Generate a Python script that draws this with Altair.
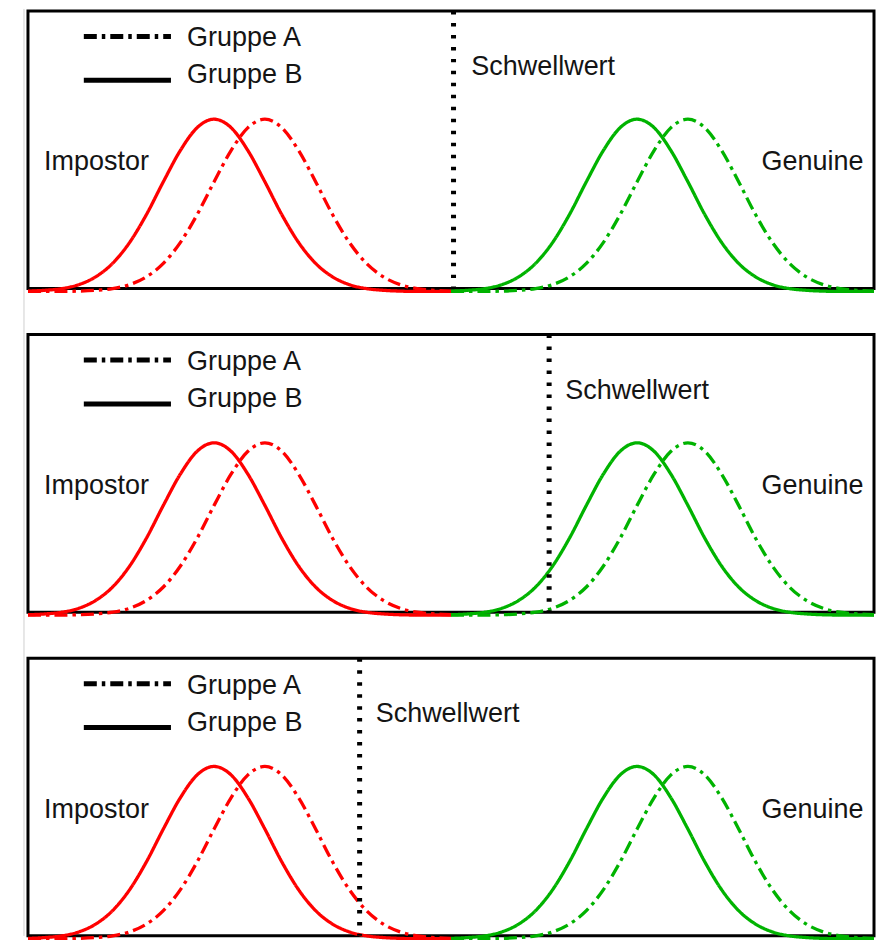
import altair as alt
import pandas as pd

# ---- data (x in 0..100 across each panel, y = curve height) ----
x_impostor = [0, 2, 4, 6, 8, 10, 12, 14, 16, 18, 20, 22, 24, 26, 28, 30, 32, 34, 36, 38, 40, 42, 44, 46, 48, 50]
x_genuine = [50, 52, 54, 56, 58, 60, 62, 64, 66, 68, 70, 72, 74, 76, 78, 80, 82, 84, 86, 88, 90, 92, 94, 96, 98, 100]

impostor_gruppe_b = [0.001, 0.004, 0.010, 0.024, 0.052, 0.100, 0.174, 0.274, 0.391, 0.502, 0.584, 0.614, 0.584,
                     0.502, 0.391, 0.274, 0.174, 0.100, 0.052, 0.024, 0.010, 0.004, 0.001, 0.000, 0.000, 0.000]
impostor_gruppe_a = [0.000, 0.000, 0.000, 0.001, 0.004, 0.010, 0.024, 0.052, 0.100, 0.174, 0.274, 0.391, 0.502,
                     0.584, 0.614, 0.584, 0.502, 0.391, 0.274, 0.174, 0.100, 0.052, 0.024, 0.010, 0.004, 0.001]
genuine_gruppe_b = [0.001, 0.004, 0.010, 0.024, 0.052, 0.100, 0.174, 0.274, 0.391, 0.502, 0.584, 0.614, 0.584,
                    0.502, 0.391, 0.274, 0.174, 0.100, 0.052, 0.024, 0.010, 0.004, 0.001, 0.000, 0.000, 0.000]
genuine_gruppe_a = [0.000, 0.000, 0.000, 0.001, 0.004, 0.010, 0.024, 0.052, 0.100, 0.174, 0.274, 0.391, 0.502,
                    0.584, 0.614, 0.584, 0.502, 0.391, 0.274, 0.174, 0.100, 0.052, 0.024, 0.010, 0.004, 0.001]

thresholds = [50.3, 61.6, 39.2]
threshold_label = "Schwellwert"
threshold_label_x = [52.4, 63.5, 41.1]
groups = ["Gruppe A", "Gruppe B"]
class_labels = ["Impostor", "Genuine"]
class_label_x = [1.9, 86.7]

# legend sample positions (in panel data units)
legend_line_x1 = [6.6, 6.6]
legend_line_x2 = [16.9, 16.9]
legend_line_y = [0.909, 0.7525]
legend_text_x = [18.8, 18.8]
legend_text_y = [0.8736, 0.7413]

RED = "#ff0000"
GREEN = "#00b300"
TEXT = "#141414"
FONT = "Liberation Sans"
FS = 27
W, H, GAP = 847, 278, 46

rows = []
for name, xs_, ys_, color, grp in [
    ("imp_b", x_impostor, impostor_gruppe_b, RED, "Gruppe B"),
    ("imp_a", x_impostor, impostor_gruppe_a, RED, "Gruppe A"),
    ("gen_b", x_genuine, genuine_gruppe_b, GREEN, "Gruppe B"),
    ("gen_a", x_genuine, genuine_gruppe_a, GREEN, "Gruppe A"),
]:
    for x, y in zip(xs_, ys_):
        rows.append({"curve": name, "x": x, "y": y, "color": color, "gruppe": grp})
curves_df = pd.DataFrame(rows)

legend_df = pd.DataFrame({"x1": legend_line_x1, "x2": legend_line_x2, "y": legend_line_y,
                          "gruppe": groups, "tx": legend_text_x, "ty": legend_text_y})
class_df = pd.DataFrame({"label": class_labels, "x": class_label_x, "y": [0.432, 0.432]})

xs = alt.Scale(domain=[0, 100], nice=False, zero=False)
ys = alt.Scale(domain=[0.01, 1], nice=False, zero=False)
dash = alt.Scale(domain=groups, range=[[13, 5, 3.5, 5], [1, 0]])


def panel(i):
    frame = alt.Chart(pd.DataFrame({"a": [0]})).mark_rule(color="#cfcfcf", strokeWidth=1).encode(
        x=alt.value(-4), y=alt.value(-2 if i == 0 else 0), y2=alt.value(H + (GAP if i < 2 else 0))
    )
    curves = alt.Chart(curves_df).mark_line(strokeWidth=3.3, interpolate="monotone").encode(
        x=alt.X("x:Q", scale=xs, axis=None),
        y=alt.Y("y:Q", scale=ys, axis=None),
        color=alt.Color("color:N", scale=None),
        strokeDash=alt.StrokeDash("gruppe:N", scale=dash, legend=None),
        detail="curve:N",
    )
    thr_df = pd.DataFrame({"t": [thresholds[i]], "lx": [threshold_label_x[i]],
                           "ly": [0.771], "label": [threshold_label]})
    thr = alt.Chart(thr_df).mark_rule(color="black", strokeWidth=5, strokeDash=[3.5, 8.5]).encode(
        x=alt.X("t:Q", scale=xs, axis=None)
    )
    thr_text = alt.Chart(thr_df).mark_text(align="left", baseline="alphabetic", font=FONT,
                                           fontSize=FS, color=TEXT).encode(
        x=alt.X("lx:Q", scale=xs, axis=None),
        y=alt.Y("ly:Q", scale=ys, axis=None),
        text="label:N",
    )
    leg_lines = alt.Chart(legend_df).mark_rule(strokeWidth=5, color="black").encode(
        x=alt.X("x1:Q", scale=xs, axis=None),
        x2="x2:Q",
        y=alt.Y("y:Q", scale=ys, axis=None),
        strokeDash=alt.StrokeDash("gruppe:N", scale=dash, legend=None),
    )
    leg_text = alt.Chart(legend_df).mark_text(align="left", baseline="alphabetic", font=FONT,
                                              fontSize=FS, color=TEXT).encode(
        x=alt.X("tx:Q", scale=xs, axis=None),
        y=alt.Y("ty:Q", scale=ys, axis=None),
        text="gruppe:N",
    )
    cls_text = alt.Chart(class_df).mark_text(align="left", baseline="alphabetic", font=FONT,
                                             fontSize=FS, color=TEXT).encode(
        x=alt.X("x:Q", scale=xs, axis=None),
        y=alt.Y("y:Q", scale=ys, axis=None),
        text="label:N",
    )
    return alt.layer(frame, curves, thr, thr_text, leg_lines, leg_text, cls_text).properties(
        width=W, height=H
    )


chart = alt.vconcat(panel(0), panel(1), panel(2), spacing=GAP, bounds="flush").properties(
    padding={"left": 11, "top": -1.6, "right": -7, "bottom": -7.1},
).configure_view(stroke="black", strokeWidth=3)

chart.save("out.html", embed_options={"renderer": "svg", "actions": False})
